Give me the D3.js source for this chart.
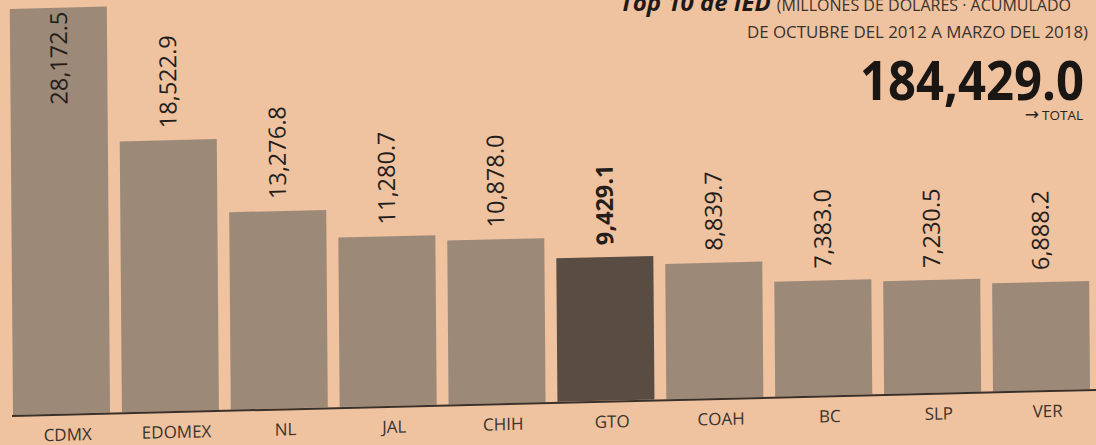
<!DOCTYPE html>
<html>
<head>
<meta charset="utf-8">
<script src="https://cdn.jsdelivr.net/npm/d3@7"></script>
<style>
  html, body { margin: 0; padding: 0; background: #efc2a0; }
  svg { display: block; }
</style>
</head>
<body>
<svg id="chart" width="1096" height="445"></svg>
<script>
// ---- data ----
const categories = ["CDMX", "EDOMEX", "NL", "JAL", "CHIH", "GTO", "COAH", "BC", "SLP", "VER"];
const values = [28172.5, 18522.9, 13276.8, 11280.7, 10878.0, 9429.1, 8839.7, 7383.0, 7230.5, 6888.2];
const highlighted = ["GTO"];
const totalValue = 184429.0;
const titleBold = "Top 10 de IED";
const titleRest = "(MILLONES DE DÓLARES · ACUMULADO";
const titleLine2 = "DE OCTUBRE DEL 2012 A MARZO DEL 2018)";
const totalArrow = "→";
const totalLabel = "TOTAL";

// ---- layout ----
const W = 1096, H = 445;
const baseY = 415;
const svg = d3.select("#chart");
svg.append("rect").attr("width", W).attr("height", H).attr("fill", "#efc2a0");

const fmt = d3.format(",.1f");

const x = d3.scaleBand().domain(categories).range([13, 1090]).paddingInner(0.109).paddingOuter(0);
const y = d3.scaleLinear().domain([-830, d3.max(values)]).range([baseY, 9]);

// slight skew of the scanned page
const g = svg.append("g")
  .attr("transform", "translate(10,413) matrix(1,-0.024,0.008,1,0,0) translate(-10,-413)");

const data = categories.map((c, i) => ({ cat: c, val: values[i] }));

g.selectAll("rect.bar").data(data).join("rect")
  .attr("class", "bar")
  .attr("x", d => x(d.cat))
  .attr("width", x.bandwidth())
  .attr("y", d => y(d.val))
  .attr("height", d => y(-830) - y(d.val))
  .attr("fill", d => highlighted.includes(d.cat) ? "#584c43" : "#9c8978");

// baseline
g.append("line")
  .attr("x1", 12).attr("x2", 1110)
  .attr("y1", baseY + 1).attr("y2", baseY + 1)
  .attr("stroke", "#3a302a").attr("stroke-width", 2);

// value labels (rotated)
g.selectAll("text.val").data(data).join("text")
  .attr("class", "val")
  .attr("transform", (d, i) => {
    const cx = x(d.cat) + x.bandwidth() / 2;
    const yy = i === 0 ? y(d.val) + 4 : y(d.val) - 12;
    return `translate(${cx},${yy}) rotate(-90)`;
  })
  .attr("text-anchor", (d, i) => i === 0 ? "end" : "start")
  .attr("dy", "0.36em")
  .attr("font-family", "Open Sans, sans-serif")
  .attr("font-size", 23.5)
  .attr("font-weight", d => highlighted.includes(d.cat) ? 700 : 400)
  .attr("fill", "#241e1a")
  .text(d => fmt(d.val));

// category labels
const xAxis = d3.axisBottom(x).tickSize(0).tickPadding(0);
const axG = g.append("g").attr("transform", `translate(6,${baseY + 27})`).call(xAxis);
axG.select(".domain").remove();
axG.selectAll("text")
  .attr("font-family", "Open Sans, sans-serif")
  .attr("font-size", 17)
  .attr("fill", "#3a322d")
  .attr("dy", 0);

// title block (top right)
const t1 = svg.append("text")
  .attr("x", 620).attr("y", 11)
  .attr("font-family", "Open Sans, sans-serif")
  .attr("fill", "#1f1a17");
t1.append("tspan").attr("font-weight", 700).attr("font-style", "italic").attr("font-size", 24).text(titleBold);
t1.append("tspan").attr("font-size", 16).attr("dx", 6).attr("fill", "#3a322d").text(titleRest);

svg.append("text")
  .attr("x", 1088).attr("y", 38)
  .attr("text-anchor", "end")
  .attr("font-family", "Open Sans, sans-serif")
  .attr("font-size", 16)
  .attr("fill", "#3a322d")
  .attr("textLength", 341).attr("lengthAdjust", "spacingAndGlyphs")
  .text(titleLine2);

svg.append("text")
  .attr("x", 1084).attr("y", 100)
  .attr("text-anchor", "end")
  .attr("font-family", "Open Sans, sans-serif")
  .attr("font-weight", 700)
  .attr("font-size", 54)
  .attr("fill", "#1a1613")
  .attr("textLength", 224).attr("lengthAdjust", "spacingAndGlyphs")
  .text(fmt(totalValue));

const tt = svg.append("text")
  .attr("x", 1083).attr("y", 120)
  .attr("text-anchor", "end")
  .attr("font-family", "DejaVu Sans, sans-serif")
  .attr("fill", "#2a2420");
tt.append("tspan").attr("font-size", 17).text(totalArrow);
tt.append("tspan").attr("font-family", "Open Sans, sans-serif").attr("font-size", 13.5).attr("dx", 3).text(totalLabel);
</script>
</body>
</html>
